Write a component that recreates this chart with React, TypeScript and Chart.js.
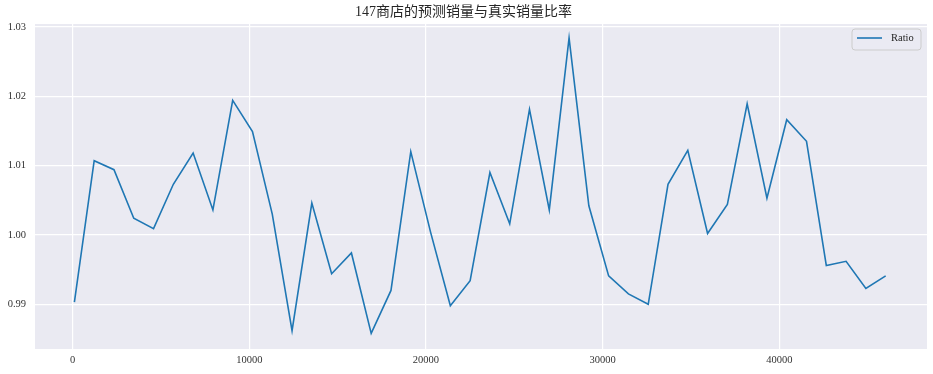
import React, { useEffect, useRef } from "react";
import { Chart, registerables } from "chart.js";

Chart.register(...registerables);

const TITLE = "147商店的预测销量与真实销量比率";
const SERIES_LABEL = "Ratio";

const xValues = [
  100, 1220, 2340, 3460, 4580, 5700, 6820, 7940, 9060, 10180, 11300, 12420,
  13540, 14660, 15780, 16900, 18020, 19140, 20260, 21380, 22500, 23620, 24740,
  25860, 26980, 28100, 29220, 30340, 31460, 32580, 33700, 34820, 35940, 37060,
  38180, 39300, 40420, 41540, 42660, 43780, 44900, 46020,
];

const ratioValues = [
  0.9903, 1.0107, 1.0094, 1.0024, 1.0009, 1.0073, 1.0118, 1.0036, 1.0194,
  1.0149, 1.003, 0.9862, 1.0046, 0.9944, 0.9974, 0.9858, 0.992, 1.012, 1.0004,
  0.9898, 0.9934, 1.009, 1.0016, 1.0181, 1.0036, 1.0284, 1.0042, 0.9941,
  0.9915, 0.99, 1.0073, 1.0122, 1.0002, 1.0044, 1.0189, 1.0053, 1.0166,
  1.0135, 0.9956, 0.9962, 0.9923, 0.9941,
];

const xTicks = [0, 10000, 20000, 30000, 40000];
const yTicks = [0.99, 1.0, 1.01, 1.02, 1.03];

const FONT = "'Liberation Serif', 'DejaVu Serif', serif";
const TITLE_FONT = "'Liberation Serif', 'Noto Sans CJK SC', serif";

const bgPlugin = {
  id: "bgPlugin",
  beforeDraw(chart: any) {
    const { ctx, chartArea } = chart;
    ctx.save();
    ctx.fillStyle = "#EAEAF2";
    ctx.fillRect(
      chartArea.left,
      chartArea.top,
      chartArea.right - chartArea.left,
      chartArea.bottom - chartArea.top
    );
    ctx.restore();
  },
};

const legendPlugin = {
  id: "boxLegend",
  afterDraw(chart: any) {
    const { ctx, chartArea } = chart;
    const ds = chart.data.datasets[0];
    const w = 69;
    const h = 21;
    const x = chartArea.right - 6 - w;
    const y = chartArea.top + 5;
    ctx.save();
    ctx.beginPath();
    const r = 3;
    ctx.moveTo(x + r, y);
    ctx.lineTo(x + w - r, y);
    ctx.arcTo(x + w, y, x + w, y + r, r);
    ctx.lineTo(x + w, y + h - r);
    ctx.arcTo(x + w, y + h, x + w - r, y + h, r);
    ctx.lineTo(x + r, y + h);
    ctx.arcTo(x, y + h, x, y + h - r, r);
    ctx.lineTo(x, y + r);
    ctx.arcTo(x, y, x + r, y, r);
    ctx.closePath();
    ctx.fillStyle = "rgba(234,234,242,0.8)";
    ctx.fill();
    ctx.strokeStyle = "#cccccc";
    ctx.lineWidth = 1;
    ctx.stroke();
    const cy = y + 9;
    ctx.beginPath();
    ctx.moveTo(x + 5, cy);
    ctx.lineTo(x + 30, cy);
    ctx.strokeStyle = ds.borderColor;
    ctx.lineWidth = 1.6;
    ctx.stroke();
    ctx.fillStyle = "#262626";
    ctx.font = `10.5px ${FONT}`;
    ctx.textBaseline = "middle";
    ctx.textAlign = "left";
    ctx.fillText(ds.label, x + 39, cy + 0.5);
    ctx.restore();
  },
};

export default function App() {
  const canvasRef = useRef<HTMLCanvasElement | null>(null);

  useEffect(() => {
    if (!canvasRef.current) return;
    const chart = new Chart(canvasRef.current, {
      type: "line",
      data: {
        datasets: [
          {
            label: SERIES_LABEL,
            data: xValues.map((x, i) => ({ x, y: ratioValues[i] })),
            borderColor: "#1f77b4",
            backgroundColor: "#1f77b4",
            borderWidth: 1.6,
            pointRadius: 0,
            tension: 0,
          },
        ],
      },
      options: {
        animation: false,
        responsive: false,
        devicePixelRatio: 1,
        layout: { padding: { left: 0, right: 6, top: 0, bottom: 0 } },
        plugins: {
          legend: { display: false },
          tooltip: { enabled: false },
          title: {
            display: true,
            text: TITLE,
            color: "#262626",
            font: { family: TITLE_FONT, size: 14, weight: "normal", lineHeight: 1.2 },
            padding: { top: 4, bottom: 3.2 },
          },
        },
        scales: {
          x: {
            type: "linear",
            min: -2130,
            max: 48360,
            afterBuildTicks: (scale: any) => {
              scale.ticks = xTicks.map((v) => ({ value: v }));
            },
            afterFit: (scale: any) => {
              scale.height = 25;
            },
            grid: { color: "#ffffff", lineWidth: 1.2, drawTicks: false },
            border: { display: false },
            ticks: {
              color: "#333333",
              font: { family: FONT, size: 10.5 },
              padding: 5,
              maxRotation: 0,
              callback: (v: any) => String(v),
            },
          },
          y: {
            type: "linear",
            min: 0.98356,
            max: 1.0304,
            afterBuildTicks: (scale: any) => {
              scale.ticks = yTicks.map((v) => ({ value: v }));
            },
            afterFit: (scale: any) => {
              scale.width = 35;
            },
            grid: { color: "#ffffff", lineWidth: 1.2, drawTicks: false },
            border: { display: false },
            ticks: {
              color: "#333333",
              font: { family: FONT, size: 10.5 },
              padding: 9,
              callback: (v: any) => Number(v).toFixed(2),
            },
          },
        },
      },
      plugins: [bgPlugin, legendPlugin],
    });
    return () => chart.destroy();
  }, []);

  return (
    <div style={{ position: "fixed", left: 0, top: 0, width: 933, height: 374, background: "#ffffff" }}>
      <canvas ref={canvasRef} width={933} height={374} style={{ display: "block" }} />
    </div>
  );
}
